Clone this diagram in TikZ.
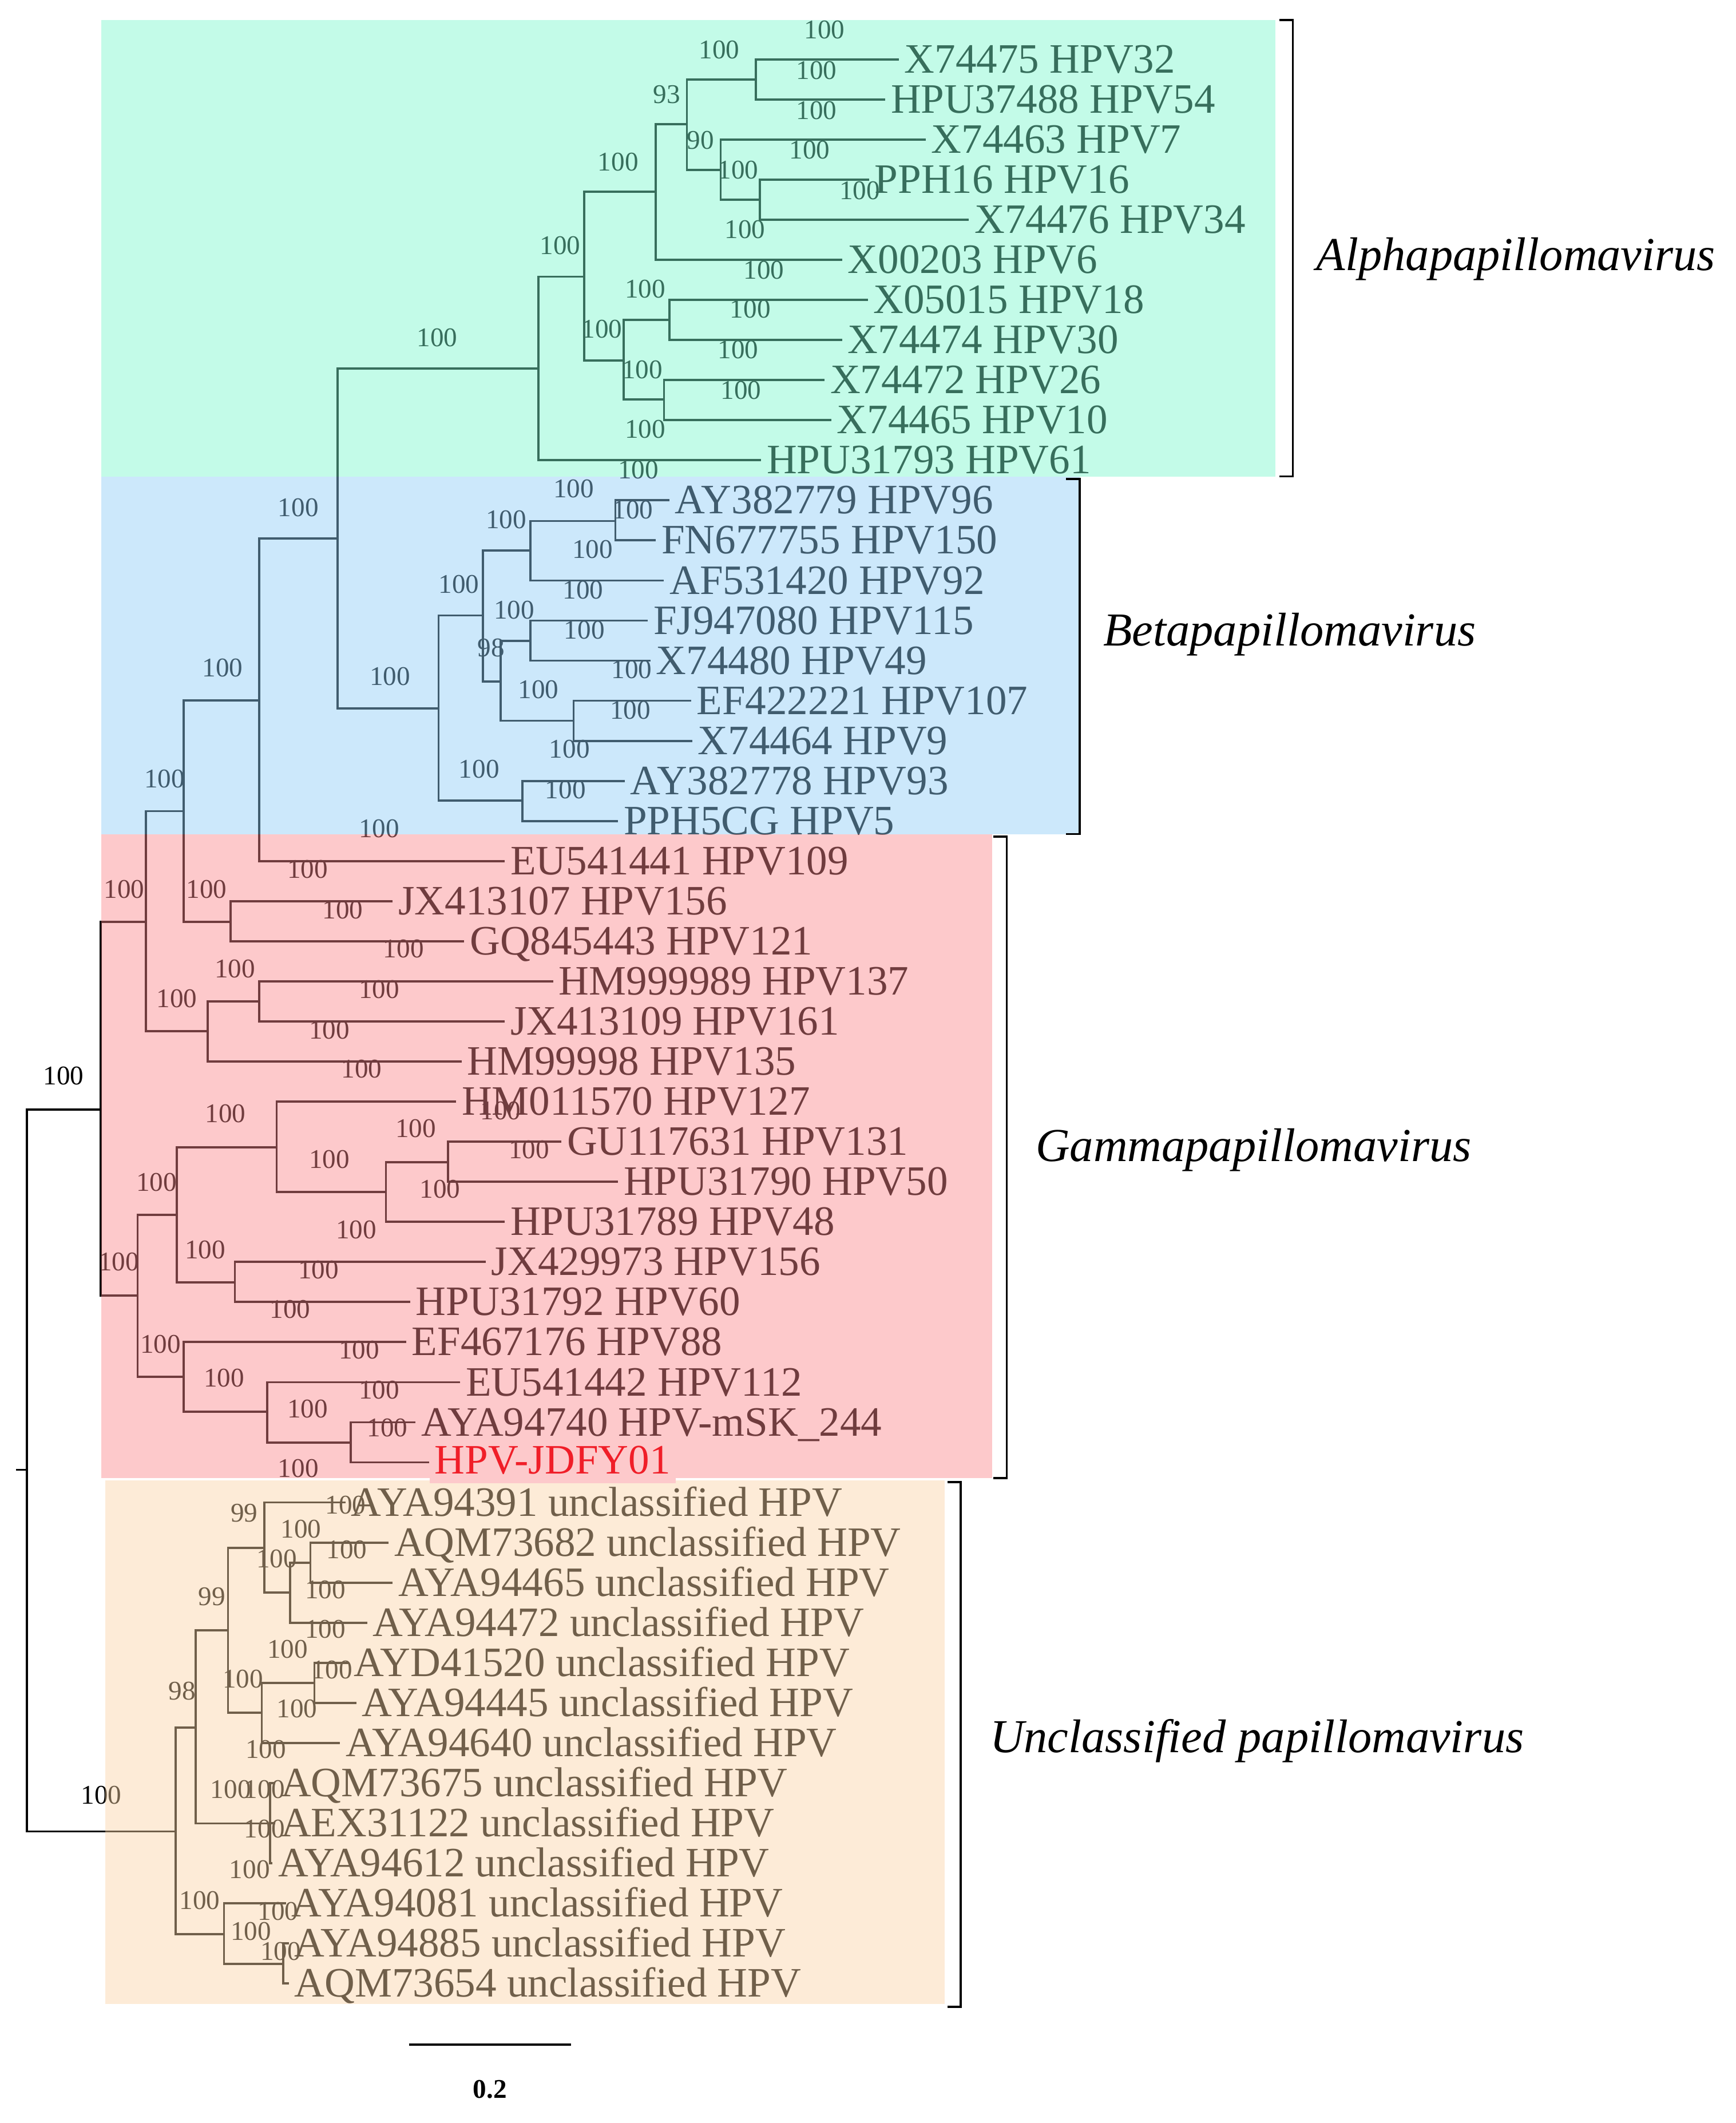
\documentclass[tikz,border=0pt]{standalone}
\usepackage{fontspec}
\setmainfont{Liberation Serif}
\begin{document}
\begin{tikzpicture}[x=1pt,y=-1pt,
  br/.style={line width=1.6pt,black},
  tiplbl/.style={font=\fontsize{31}{32}\selectfont,inner sep=4pt,text height=20pt,text depth=0pt,anchor=west},
  bs/.style={font=\fontsize{20}{20}\selectfont,inner sep=0pt},
  clade/.style={font=\fontsize{35}{36}\selectfont\itshape,anchor=west},
  brk/.style={line width=1.6pt,black}]
\useasboundingbox (0,0) rectangle (1286,1573);
% tips
\foreach \n/\x/\y/\t in {
1/670/44/X74475 HPV32, 2/660/73.7/HPU37488 HPV54, 3/690/103.4/X74463 HPV7,
4/648/133.1/PPH16 HPV16, 5/722/162.8/X74476 HPV34, 6/628/192.5/X00203 HPV6,
7/647/222.2/X05015 HPV18, 8/628/251.9/X74474 HPV30, 9/615/281.6/X74472 HPV26,
10/620/311.3/X74465 HPV10, 11/568/341/HPU31793 HPV61, 12/500/370.7/AY382779 HPV96,
13/490/400.4/FN677755 HPV150, 14/496/430.1/AF531420 HPV92, 15/484/459.8/FJ947080 HPV115,
16/486/489.5/X74480 HPV49, 17/516/519.2/EF422221 HPV107, 18/517/548.9/X74464 HPV9,
19/467/578.6/AY382778 HPV93, 20/462/608.3/PPH5CG HPV5, 21/378/638/EU541441 HPV109,
22/295/667.7/JX413107 HPV156, 23/348/697.4/GQ845443 HPV121, 24/414/727.1/HM999989 HPV137,
25/378/756.8/JX413109 HPV161, 26/346/786.5/HM99998 HPV135, 27/342/816.2/HM011570 HPV127,
28/420/845.9/GU117631 HPV131, 29/462/875.6/HPU31790 HPV50, 30/378/905.3/HPU31789 HPV48,
31/364/935/JX429973 HPV156, 32/308/964.7/HPU31792 HPV60, 33/305/994.4/EF467176 HPV88,
34/345/1024.1/EU541442 HPV112, 35/312/1053.8/AYA94740 HPV-mSK\_244, 36/322/1083.5/HPV-JDFY01,
37/260/1113.2/AYA94391 unclassified HPV, 38/292/1142.9/AQM73682 unclassified HPV,
39/295/1172.6/AYA94465 unclassified HPV, 40/276/1202.3/AYA94472 unclassified HPV,
41/262/1232/AYD41520 unclassified HPV, 42/268/1261.7/AYA94445 unclassified HPV,
43/256/1291.4/AYA94640 unclassified HPV, 44/208/1321.1/AQM73675 unclassified HPV,
45/208/1350.8/AEX31122 unclassified HPV, 46/206/1380.5/AYA94612 unclassified HPV,
47/216/1410.2/AYA94081 unclassified HPV, 48/218/1439.9/AYA94885 unclassified HPV,
49/218/1469.6/AQM73654 unclassified HPV}
  \node[tiplbl] (t\n) at (\x-4,\y) {\t};
% internal nodes
\coordinate (a1) at (560,59);
\coordinate (a2) at (563,148);
\coordinate (a3) at (534,126);
\coordinate (a4) at (509,92);
\coordinate (a5) at (486,142);
\coordinate (a6) at (496,237);
\coordinate (a7) at (492,296);
\coordinate (a8) at (462,267);
\coordinate (a9) at (433,205);
\coordinate (a10) at (399,273);
\coordinate (b1) at (456,386);
\coordinate (b2) at (393,408);
\coordinate (b3) at (393,475);
\coordinate (b4) at (425,534);
\coordinate (b5) at (371,505);
\coordinate (b6) at (358,456);
\coordinate (b7) at (387,593);
\coordinate (b8) at (325,525);
\coordinate (ab) at (250,399);
\coordinate (c1) at (192,519);
\coordinate (hm1) at (171,683);
\coordinate (c2) at (136,601);
\coordinate (hm2) at (192,742);
\coordinate (c3) at (154,764);
\coordinate (c4) at (108,683);
\coordinate (g1) at (332,861);
\coordinate (g2) at (286,883);
\coordinate (g3) at (205,850);
\coordinate (g4) at (174,950);
\coordinate (g5) at (131,900);
\coordinate (g6) at (260,1069);
\coordinate (g7) at (198,1046);
\coordinate (g8) at (136,1020);
\coordinate (g9) at (102,960);
\coordinate (ing) at (74.5,822);
\coordinate (u1) at (230,1158);
\coordinate (u2) at (215,1180);
\coordinate (u3) at (196,1147);
\coordinate (u4) at (233,1247);
\coordinate (u5) at (194,1269);
\coordinate (u6) at (169,1208);
\coordinate (u7) at (200,1351);
\coordinate (u8) at (145,1280);
\coordinate (u9) at (210,1455);
\coordinate (u10) at (166,1433);
\coordinate (u11) at (130,1357);
\coordinate (root) at (20,1089);
% clades: (child1) -| (parent) |- (child2)
\foreach \p/\c/\d in {a1/t1.west/t2.west, a2/t4.west/t5.west, a3/t3.west/a2, a4/a1/a3,
  a5/a4/t6.west, a6/t7.west/t8.west, a7/t9.west/t10.west, a8/a6/a7, a9/a5/a8,
  a10/a9/t11.west, b1/t12.west/t13.west, b2/b1/t14.west, b3/t15.west/t16.west,
  b4/t17.west/t18.west, b5/b3/b4, b6/b2/b5, b7/t19.west/t20.west, b8/b6/b7,
  ab/a10/b8, c1/ab/t21.west, hm1/t22.west/t23.west, c2/c1/hm1,
  hm2/t24.west/t25.west, c3/hm2/t26.west, c4/c2/c3,
  g1/t28.west/t29.west, g2/g1/t30.west, g3/t27.west/g2, g4/t31.west/t32.west,
  g5/g3/g4, g6/t35.west/t36.west, g7/t34.west/g6, g8/t33.west/g7, g9/g5/g8, ing/c4/g9,
  u1/t38.west/t39.west, u2/u1/t40.west, u3/t37.west/u2, u4/t41.west/t42.west,
  u5/u4/t43.west, u6/u3/u5, u7/t44.west/t46.west, u8/u6/u7, u9/t48.west/t49.west,
  u10/t47.west/u9, u11/u8/u10, root/ing/u11}
  \draw[br] (\c) -| (\p) |- (\d);
\draw[br] (u7 |- t45.west) -- (t45.west);
\draw[br] (root) -- ++(-8,0);
% bootstrap values
\foreach \x/\y/\t in {
611/22/100, 533/37/100, 605/52/100, 605/82/100, 494/70/93, 519/104/90, 600/111/100,
547/126/100, 637/141/100, 458/120/100, 552/170/100, 415/182/100, 566/200/100, 478/214/100,
556/229/100, 446/244/100, 547/259/100, 476/274/100, 549/289/100, 478/318/100, 473/348/100,
324/250/100,
425/362/100, 469/378/100, 375/385/100, 439/407/100, 432/437/100, 340/433/100, 381/452/100,
433/467/100, 364/480/98, 468/496/100, 399/511/100, 467/526/100, 289/501/100, 422/555/100,
355/570/100, 419/585/100, 221/376/100, 165/495/100, 281/614/100, 122/577/100,
228/644/100, 92/659/100, 153/659/100, 254/674/100, 299/703/100, 174/718/100, 131/740/100,
281/733/100, 244/763/100, 268/792/100, 167/825/100, 371/823/100, 308/836/100, 392/852/100,
244/859/100, 326/881/100, 116/876/100, 264/911/100, 88/935/100, 152/926/100, 236/941/100,
215/970/100, 119/996/100, 266/1000/100, 166/1021/100, 281/1030/100, 228/1044/100,
287/1058/100, 221/1088/100,
47/797/100, 75/1330/100,
181/1121/99, 256/1115/100, 223/1133/100, 257/1148/100, 205/1155/100, 241/1178/100,
157/1183/99, 241/1207/100, 213/1222/100, 246/1237/100, 135/1253/98, 180/1244/100,
220/1266/100, 197/1296/100, 171/1326/100, 196/1326/100, 196/1355/100, 185/1385/100,
148/1408/100, 206/1416/100, 186/1431/100, 208/1446/100}
  \node[bs] at (\x,\y) {\t};
% translucent clade panels
\fill[fill={rgb,255:red,122;green,246;blue,204},fill opacity=0.45] (75,15) rectangle (945,353);
\fill[fill={rgb,255:red,142;green,204;blue,246},fill opacity=0.45] (75,353) rectangle (800,618);
\fill[fill={rgb,255:red,250;green,135;blue,139},fill opacity=0.45] (75,618) rectangle (735,1095);
\fill[fill={rgb,255:red,250;green,211;blue,166},fill opacity=0.45] (78,1097) rectangle (700,1485);
\node[tiplbl,text={rgb,255:red,240;green,30;blue,40},fill={rgb,255:red,253;green,201;blue,203},text depth=3pt] at (t36.west) {HPV-JDFY01};
% brackets
\draw[brk] (948,15) -- (958,15) -- (958,353) -- (948,353);
\draw[brk] (790,355) -- (800,355) -- (800,618) -- (790,618);
\draw[brk] (736,620) -- (746,620) -- (746,1095) -- (736,1095);
\draw[brk] (702,1098) -- (712,1098) -- (712,1487) -- (702,1487);
\node[clade] (L1) at (972,192) {Alphapapillomavirus};
\node[clade] (L2) at (814,470) {Betapapillomavirus};
\node[clade] (L3) at (764,852) {Gammapapillomavirus};
\node[clade] (L4) at (730,1290) {Unclassified papillomavirus};
% scale bar
\coordinate (s1) at (303,1515);
\coordinate (s2) at (423,1515);
\draw[br] (s1) -- (s2);
\node[font=\fontsize{20}{20}\selectfont\bfseries] (sc) at (363,1548) {0.2};
\end{tikzpicture}
\end{document}
